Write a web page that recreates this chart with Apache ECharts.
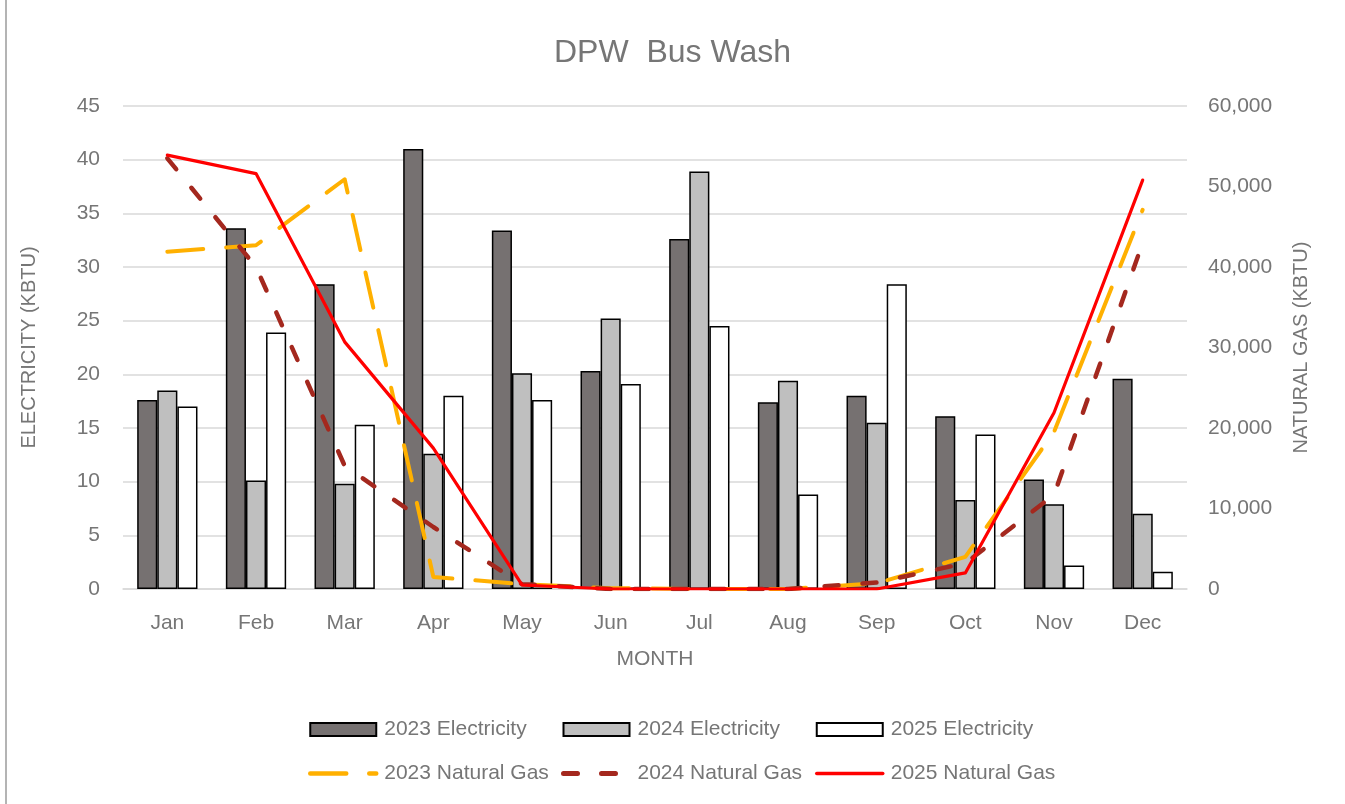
<!DOCTYPE html>
<html>
<head>
<meta charset="utf-8">
<title>DPW Bus Wash</title>
<script src="https://cdn.jsdelivr.net/npm/echarts@6/dist/echarts.min.js"></script>
<style>
    html, body { margin: 0; padding: 0; background: #fff; }
    #chart_main { width: 1345px; height: 804px; }
</style>
</head>
<body>
<div id="chart_main"></div>
<script>
// data
var months = ['Jan', 'Feb', 'Mar', 'Apr', 'May', 'Jun', 'Jul', 'Aug', 'Sep', 'Oct', 'Nov', 'Dec'];
var elec2023 = [17.6, 33.6, 28.4, 41.0, 33.4, 20.3, 32.6, 17.4, 18.0, 16.1, 10.2, 19.6];
var elec2024 = [18.5, 10.1, 9.8, 12.6, 20.1, 25.2, 38.9, 19.4, 15.5, 8.3, 7.9, 7.0];
var elec2025 = [17.0, 23.9, 15.3, 18.0, 17.6, 19.1, 24.5, 8.8, 28.4, 14.4, 2.2, 1.6];
var gas2023 = [41900, 42700, 50900, 1500, 600, 100, 0, 0, 700, 4000, 19500, 47100];
var gas2024 = [53500, 40000, 15300, 7700, 600, 0, 0, 0, 800, 3200, 11700, 43000];
var gas2025 = [53900, 51600, 30700, 17500, 500, 0, 0, 0, 0, 2000, 21900, 50800];
var leftTicks = { min: 0, max: 45, interval: 5 };
var rightTicks = { min: 0, max: 60000, interval: 10000 };

var txtColor = '#767676';
var font = 'Liberation Sans';

function barSeries(name, data, color) {
    return {
        name: name,
        type: 'bar',
        data: data,
        barGap: '0%',
        barCategoryGap: '32%',
        itemStyle: { color: color, borderColor: '#000', borderWidth: 1.5 }
    };
}

function gasSeries(name, data, color, width, dash) {
    return {
        name: name,
        type: 'line',
        yAxisIndex: 1,
        data: data,
        symbol: 'none',
        showSymbol: false,
        z: 5,
        itemStyle: { color: color },
        lineStyle: { color: color, width: width, type: dash, cap: 'round', join: 'round' }
    };
}

// one legend column per year: bar on top row, gas line under it
function legendCol(left, barName, gasName, lineW) {
    return {
        orient: 'vertical',
        left: left,
        top: 719,
        padding: 0,
        itemGap: 23,
        itemWidth: 66,
        itemHeight: 13,
        data: [
            { name: barName, icon: 'rect' },
            { name: gasName, itemStyle: { opacity: 0 }, lineStyle: { width: lineW, cap: 'round' } }
        ],
        textStyle: { color: txtColor, fontSize: 21, fontFamily: font, padding: [0, 0, 0, 3] }
    };
}

var myChart = echarts.init(document.getElementById('chart_main'));
var option = {
    backgroundColor: '#fff',
    animation: false,
    textStyle: { fontFamily: font },
    title: {
        text: 'DPW  Bus Wash',
        left: 'center',
        top: 32,
        textStyle: { color: txtColor, fontSize: 32, fontWeight: 'normal', fontFamily: font }
    },
    graphic: [{
        type: 'line',
        shape: { x1: 6, y1: 0, x2: 6, y2: 804 },
        style: { stroke: '#b4b4b4', lineWidth: 2 }
    }],
    legend: [
        legendCol(308, '2023 Electricity', '2023 Natural Gas', 4.5),
        legendCol(561, '2024 Electricity', '2024 Natural Gas', 5),
        legendCol(815, '2025 Electricity', '2025 Natural Gas', 3.5)
    ],
    grid: { left: 123, right: 158, top: 106, bottom: 215 },
    xAxis: {
        type: 'category',
        data: months,
        name: 'MONTH',
        nameLocation: 'middle',
        nameGap: 60,
        nameTextStyle: { color: txtColor, fontSize: 21 },
        axisLine: { show: true, lineStyle: { color: '#d9d9d9', width: 1.5 } },
        axisTick: { show: false },
        axisLabel: { color: txtColor, fontSize: 21, margin: 24 }
    },
    yAxis: [
        {
            type: 'value',
            min: leftTicks.min,
            max: leftTicks.max,
            interval: leftTicks.interval,
            name: 'ELECTRICITY (KBTU)',
            nameLocation: 'middle',
            nameGap: 84,
            nameTextStyle: { color: txtColor, fontSize: 20 },
            axisLine: { show: false },
            axisTick: { show: false },
            axisLabel: { color: txtColor, fontSize: 21, margin: 23 },
            splitLine: { lineStyle: { color: '#d9d9d9', width: 1.5 } }
        },
        {
            type: 'value',
            min: rightTicks.min,
            max: rightTicks.max,
            interval: rightTicks.interval,
            name: 'NATURAL GAS (KBTU)',
            nameLocation: 'middle',
            nameGap: 104,
            nameTextStyle: { color: txtColor, fontSize: 20 },
            axisLine: { show: false },
            axisTick: { show: false },
            splitLine: { show: false },
            axisLabel: {
                color: txtColor,
                fontSize: 21,
                margin: 21,
                formatter: function (v) { return v.toLocaleString('en-US'); }
            }
        }
    ],
    series: [
        barSeries('2023 Electricity', elec2023, '#767171'),
        barSeries('2024 Electricity', elec2024, '#bfbfbf'),
        barSeries('2025 Electricity', elec2025, '#ffffff'),
        gasSeries('2023 Natural Gas', gas2023, '#ffb000', 4, [36, 23]),
        gasSeries('2024 Natural Gas', gas2024, '#a4281e', 4.5, [14, 24]),
        gasSeries('2025 Natural Gas', gas2025, '#ff0000', 3.2, 'solid')
    ]
};
myChart.setOption(option);
window.addEventListener('resize', function () { myChart.resize(); });
</script>
</body>
</html>
